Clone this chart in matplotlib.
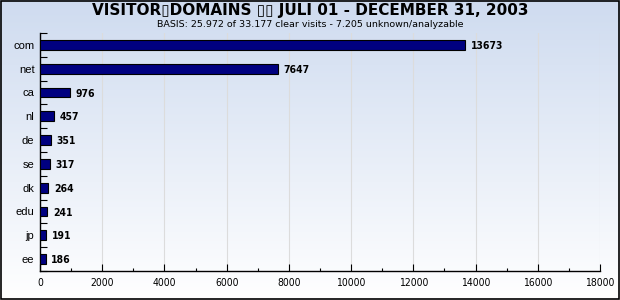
import matplotlib.pyplot as plt
from matplotlib.ticker import MultipleLocator
import numpy as np

domains = ["com", "net", "ca", "nl", "de", "se", "dk", "edu", "jp", "ee"]
visits = [13673, 7647, 976, 457, 351, 317, 264, 241, 191, 186]

title = "VISITOR\u25afDOMAINS \u25af\u25af JULI 01 - DECEMBER 31, 2003"
subtitle = "BASIS: 25.972 of 33.177 clear visits - 7.205 unknown/analyzable"

fig = plt.figure(figsize=(6.2, 3.0), dpi=100)

# background gradient, light blue on top fading to white
bg = fig.add_axes([0, 0, 1, 1], zorder=-2)
top = np.array([0.81, 0.86, 0.94])
bottom = np.array([1.0, 1.0, 1.0])
t = np.linspace(0, 1, 300)[:, None]
grad = top * (1 - t) + bottom * t
grad = np.clip(grad, 0, 1)[:, None, :]
bg.imshow(grad, aspect="auto", extent=[0, 1, 0, 1])
bg.set_xlim(0, 1)
bg.set_ylim(0, 1)
bg.axis("off")
bg.add_patch(plt.Rectangle((0.001, 0.002), 0.997, 0.995, fill=False,
                           edgecolor="black", linewidth=1.2, transform=bg.transAxes))

ax = fig.add_axes([40 / 620, 1 - 271 / 300, 560 / 620, 238 / 300])
ax.set_facecolor("none")

y = np.arange(len(domains))
ax.barh(y, visits, height=0.42, color="#000080", edgecolor="black", linewidth=0.8, zorder=3)
for yi, v in zip(y, visits):
    ax.text(v + 180, yi + 0.05, str(v), va="center", ha="left", fontsize=7.5,
            fontweight="bold", fontstretch="condensed", family="DejaVu Sans", zorder=4)

ax.set_xlim(0, 18000)
ax.set_ylim(9.5, -0.5)
ax.xaxis.set_major_locator(MultipleLocator(2000))
ax.xaxis.set_minor_locator(MultipleLocator(1000))
ax.set_yticks(y)
ax.set_yticklabels(domains, family="Liberation Sans", fontsize=8)
ax.set_yticks(np.arange(-0.5, 10, 1), minor=True)
ax.tick_params(axis="y", which="major", length=0, pad=4)
ax.tick_params(axis="y", which="minor", direction="in", length=5, width=0.8)
ax.tick_params(axis="x", which="major", direction="in", length=5, width=0.8, pad=5)
ax.tick_params(axis="x", which="minor", direction="in", length=2.5, width=0.8)
for lab in ax.get_xticklabels():
    lab.set_family("DejaVu Sans")
    lab.set_fontstretch("condensed")
    lab.set_fontsize(7.5)
ax.grid(axis="x", color="#dcdcdc", linewidth=0.8, zorder=0)
ax.spines["top"].set_visible(False)
ax.spines["right"].set_visible(False)
ax.spines["left"].set_linewidth(1.0)
ax.spines["bottom"].set_linewidth(1.0)

fig.text(0.5, 1 - 11 / 300, title, ha="center", va="center", fontsize=11,
         fontweight="heavy", family="DejaVu Sans")
fig.text(0.5, 1 - 24.5 / 300, subtitle, ha="center", va="center", fontsize=6.8,
         family="DejaVu Sans")

fig.savefig("out.png", dpi=100)
